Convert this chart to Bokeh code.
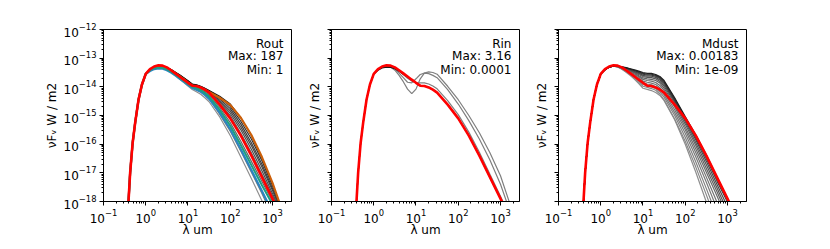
from bokeh.plotting import figure
from bokeh.layouts import row
from bokeh.models import Label, Range1d, CustomJSTickFormatter
from bokeh.embed import file_html
from bokeh.resources import INLINE

# ---------------- data ----------------
# wavelength grid, micrometres
rise_um = [0.38, 0.427, 0.49, 0.562, 0.676, 0.813, 1.0]
tail_um = [1.26, 1.58, 2.0, 2.51, 3.16, 3.98, 5.01, 6.31, 7.94, 10.0, 12.6, 15.8,
           20.0, 25.1, 31.6, 56.2, 100.0, 178.0, 316.0, 562.0, 1000.0, 1778.0, 3162.0]
wavelength_um = rise_um + tail_um

# log10 of nuFnu (W/m2) on the steep short-wavelength side, common to all models
rise_log = [-18.3, -17.0, -15.95, -15.25, -14.44, -13.92, -13.55]

# reference model (red), identical in all three panels
ref_log = [-13.38, -13.29, -13.25, -13.26, -13.32, -13.42, -13.53, -13.64, -13.75, -13.86, -13.96, -13.97,
           -14.02, -14.10, -14.20, -14.62, -15.10, -15.70, -16.40, -17.15, -17.90, -18.70, -19.50]

# panel 1: Rout (1 .. 187)
rout_low = [-13.42, -13.35, -13.33, -13.34, -13.40, -13.50, -13.61, -13.73, -13.85, -13.97, -14.09, -14.17,
            -14.26, -14.38, -14.52, -15.05, -15.70, -16.45, -17.20, -17.97, -18.80, -19.60, -20.40]
rout_m1 = [-13.42, -13.35, -13.33, -13.34, -13.39, -13.48, -13.59, -13.70, -13.81, -13.92, -14.03, -14.10,
           -14.18, -14.28, -14.40, -14.95, -15.55, -16.25, -16.98, -17.72, -18.52, -19.30, -20.10]
rout_m2 = [-13.41, -13.33, -13.30, -13.31, -13.36, -13.45, -13.55, -13.66, -13.77, -13.88, -13.98, -14.02,
           -14.08, -14.17, -14.28, -14.72, -15.25, -15.90, -16.60, -17.30, -18.00, -18.75, -19.50]
rout_d1 = [-13.40, -13.31, -13.28, -13.29, -13.34, -13.43, -13.54, -13.65, -13.76, -13.87, -13.97, -13.99,
           -14.04, -14.12, -14.22, -14.58, -15.00, -15.62, -16.30, -17.05, -17.80, -18.60, -19.50]
rout_d2 = [-13.40, -13.31, -13.28, -13.29, -13.34, -13.42, -13.52, -13.63, -13.74, -13.85, -13.95, -13.98,
           -14.03, -14.10, -14.20, -14.52, -14.92, -15.50, -16.18, -16.93, -17.72, -18.55, -19.50]
rout_d3 = [-13.40, -13.31, -13.29, -13.29, -13.34, -13.42, -13.51, -13.61, -13.72, -13.83, -13.93, -13.96,
           -14.01, -14.08, -14.18, -14.47, -14.84, -15.40, -16.05, -16.80, -17.62, -18.50, -19.50]
rout_d4 = [-13.40, -13.31, -13.29, -13.29, -13.33, -13.41, -13.50, -13.60, -13.70, -13.81, -13.92, -13.95,
           -14.00, -14.07, -14.16, -14.42, -14.76, -15.30, -15.95, -16.70, -17.55, -18.45, -19.50]
rout_d5 = [-13.40, -13.31, -13.29, -13.29, -13.33, -13.40, -13.49, -13.59, -13.69, -13.80, -13.91, -13.94,
           -13.99, -14.06, -14.14, -14.37, -14.68, -15.20, -15.82, -16.58, -17.45, -18.40, -19.50]
rout_black = [-13.40, -13.31, -13.29, -13.29, -13.33, -13.40, -13.49, -13.58, -13.68, -13.79, -13.90, -13.93,
              -13.98, -14.05, -14.13, -14.33, -14.60, -15.08, -15.70, -16.48, -17.38, -18.42, -19.50]
rout_orange = [-13.40, -13.32, -13.30, -13.30, -13.35, -13.43, -13.53, -13.63, -13.73, -13.85, -13.96, -13.98,
               -14.03, -14.10, -14.18, -14.38, -14.63, -15.08, -15.68, -16.45, -17.35, -18.40, -19.50]
rout_green = [-13.42, -13.35, -13.33, -13.34, -13.39, -13.47, -13.57, -13.68, -13.79, -13.90, -14.00, -14.05,
              -14.12, -14.22, -14.34, -14.80, -15.36, -16.03, -16.73, -17.43, -18.10, -18.85, -19.60]
rout_blue = [-13.45, -13.38, -13.36, -13.37, -13.42, -13.50, -13.60, -13.71, -13.82, -13.93, -14.04, -14.10,
             -14.17, -14.28, -14.42, -14.90, -15.48, -16.18, -16.90, -17.63, -18.38, -19.20, -20.00]

# panel 2: Rin (0.0001 .. 3.16)
rin_black = [-13.42, -13.34, -13.31, -13.32, -13.37, -13.46, -13.56, -13.66, -13.77, -13.87, -13.96, -13.97,
             -14.02, -14.10, -14.20, -14.62, -15.10, -15.70, -16.40, -17.15, -17.90, -18.70, -19.50]
rin_g1 = [-13.40, -13.31, -13.28, -13.29, -13.35, -13.45, -13.57, -13.70, -13.80, -13.85, -13.86, -13.86,
          -13.90, -13.97, -14.07, -14.48, -14.97, -15.58, -16.28, -17.05, -17.82, -18.60, -19.40]
rin_g2 = [-13.40, -13.31, -13.28, -13.30, -13.38, -13.52, -13.68, -13.84, -13.86, -13.72, -13.57, -13.52,
          -13.54, -13.60, -13.68, -14.10, -14.60, -15.18, -15.82, -16.55, -17.40, -18.45, -19.50]
rin_g3 = [-13.40, -13.31, -13.28, -13.31, -13.42, -13.60, -13.82, -14.08, -14.24, -14.08, -13.72, -13.52,
          -13.48, -13.50, -13.56, -13.98, -14.45, -15.00, -15.60, -16.30, -17.10, -18.20, -19.60]

# panel 3: Mdust (1e-09 .. 0.00183), lowest mass first
md_0 = [-13.40, -13.31, -13.27, -13.31, -13.39, -13.49, -13.61, -13.74, -13.89, -14.05, -14.09, -14.13,
        -14.20, -14.30, -14.48, -15.15, -16.00, -16.98, -18.02, -19.05, -20.10, -21.10, -22.10]
md_1 = [-13.40, -13.31, -13.27, -13.31, -13.38, -13.47, -13.58, -13.70, -13.84, -13.98, -14.02, -14.06,
        -14.12, -14.25, -14.45, -15.12, -15.90, -16.80, -17.77, -18.75, -19.75, -20.70, -21.60]
md_2 = [-13.40, -13.31, -13.27, -13.30, -13.37, -13.45, -13.55, -13.66, -13.79, -13.92, -13.96, -14.00,
        -14.06, -14.18, -14.36, -15.00, -15.76, -16.62, -17.55, -18.50, -19.45, -20.40, -21.30]
md_3 = [-13.40, -13.31, -13.27, -13.30, -13.36, -13.44, -13.52, -13.62, -13.74, -13.86, -13.90, -13.93,
        -13.99, -14.10, -14.28, -14.90, -15.62, -16.45, -17.33, -18.25, -19.20, -20.10, -21.00]
md_4 = [-13.40, -13.31, -13.27, -13.30, -13.35, -13.42, -13.50, -13.59, -13.69, -13.80, -13.84, -13.87,
        -13.92, -14.03, -14.20, -14.80, -15.50, -16.30, -17.15, -18.02, -18.90, -19.80, -20.70]
md_5 = [-13.40, -13.31, -13.27, -13.29, -13.34, -13.40, -13.47, -13.55, -13.65, -13.74, -13.78, -13.80,
        -13.85, -13.95, -14.12, -14.70, -15.40, -16.17, -16.98, -17.80, -18.65, -19.50, -20.40]
md_6 = [-13.40, -13.31, -13.27, -13.29, -13.33, -13.39, -13.45, -13.52, -13.61, -13.69, -13.72, -13.74,
        -13.78, -13.87, -14.05, -14.62, -15.30, -16.05, -16.85, -17.65, -18.50, -19.40, -20.30]
md_7 = [-13.40, -13.31, -13.27, -13.29, -13.33, -13.37, -13.43, -13.49, -13.57, -13.64, -13.67, -13.68,
        -13.72, -13.81, -13.98, -14.55, -15.22, -15.95, -16.72, -17.52, -18.35, -19.20, -20.00]
md_8 = [-13.40, -13.31, -13.27, -13.29, -13.32, -13.36, -13.41, -13.47, -13.53, -13.60, -13.63, -13.63,
        -13.67, -13.76, -13.92, -14.50, -15.16, -15.85, -16.60, -17.40, -18.18, -19.00, -19.80]
md_9 = [-13.40, -13.31, -13.27, -13.28, -13.31, -13.35, -13.39, -13.44, -13.50, -13.56, -13.59, -13.59,
        -13.63, -13.71, -13.86, -14.47, -15.12, -15.78, -16.50, -17.28, -18.02, -18.85, -19.70]
md_10 = [-13.40, -13.31, -13.27, -13.28, -13.31, -13.34, -13.38, -13.43, -13.48, -13.53, -13.56, -13.56,
         -13.60, -13.67, -13.82, -14.42, -15.08, -15.72, -16.42, -17.18, -17.93, -18.75, -19.60]
md_11 = [-13.40, -13.31, -13.27, -13.28, -13.30, -13.33, -13.37, -13.41, -13.45, -13.50, -13.53, -13.53,
         -13.57, -13.64, -13.78, -14.38, -15.04, -15.68, -16.38, -17.14, -17.90, -18.70, -19.50]

panel_names = ["Rout", "Rin", "Mdust"]
panel_max = ["187", "3.16", "0.00183"]
panel_min = ["1", "0.0001", "1e-09"]

# ---------------- drawing ----------------
FONT = "DejaVu Sans"
FS = "12px"
FRAME_W = 188
FRAME_H = 172
TOP = 29
BOTTOM = 44


def flux(tail_log):
    return [10 ** v for v in rise_log + tail_log]


def make_fig(left, right, show_labels):
    p = figure(x_axis_type="log", y_axis_type="log",
               x_range=Range1d(0.1, 10 ** 3.45), y_range=Range1d(1e-18, 1e-12),
               width=left + FRAME_W + right, height=TOP + FRAME_H + BOTTOM,
               min_border_left=left, min_border_right=right,
               min_border_top=TOP, min_border_bottom=BOTTOM,
               output_backend="svg", toolbar_location=None)
    p.grid.visible = False
    p.outline_line_color = "black"
    p.outline_line_width = 1
    p.outline_line_alpha = 1
    p.background_fill_color = "white"
    p.border_fill_color = "white"
    for ax in (p.xaxis[0], p.yaxis[0]):
        ax.major_tick_out = 4
        ax.major_tick_in = 0
        ax.minor_tick_out = 2
        ax.minor_tick_in = 0
        ax.major_label_standoff = 3
        ax.axis_line_color = "black"
        ax.major_tick_line_color = "black"
        ax.minor_tick_line_color = "black"
        ax.major_label_text_font = FONT
        ax.major_label_text_font_size = FS
        ax.major_label_text_color = "black"
        ax.axis_label_text_font = FONT
        ax.axis_label_text_font_size = FS
        ax.axis_label_text_font_style = "normal"
        ax.axis_label_text_color = "black"
    p.xaxis.axis_label = "λ um"
    p.xaxis.axis_label_standoff = -3
    p.yaxis.axis_label = "νFᵥ W / m2"
    if not show_labels:
        p.yaxis.formatter = CustomJSTickFormatter(code="return ''")
        p.yaxis.axis_label_standoff = 6
    else:
        p.yaxis.axis_label_standoff = 2
    return p


def add_text(p, i):
    xs = 10 ** 3.26
    for txt, yl in ((panel_names[i], -12.49), ("Max: " + panel_max[i], -12.94), ("Min: " + panel_min[i], -13.40)):
        p.add_layout(Label(x=xs, y=10 ** yl, text=txt, text_align="right", text_baseline="middle",
                           text_font=FONT, text_font_size=FS, text_color="black"))


# panel 1
p1 = make_fig(103, 2, True)
for curve, col in ((rout_low, "#8f8f8f"), (rout_m1, "#7a7a7a"), (rout_m2, "#666666"),
                   (rout_d1, "#5a5a5a"), (rout_d2, "#4d4d4d"), (rout_d3, "#444444"),
                   (rout_d4, "#3a3a3a"), (rout_d5, "#303030"), (rout_black, "#151515")):
    p1.line(wavelength_um, flux(curve), line_color=col, line_width=1.2)
p1.line(wavelength_um, flux(rout_orange), line_color="#cc5f0a", line_width=2.2)
p1.line(wavelength_um, flux(rout_blue), line_color="#2b84c2", line_width=2.2)
p1.line(wavelength_um, flux(rout_green), line_color="#1c9e80", line_width=2.0)
p1.line(wavelength_um, flux(ref_log), line_color="#ff0000", line_width=2.6)
add_text(p1, 0)

# panel 2
p2 = make_fig(38, 2, False)
for curve in (rin_g1, rin_g2, rin_g3):
    p2.line(wavelength_um, flux(curve), line_color="#7f7f7f", line_width=1.2)
p2.line(wavelength_um, flux(rin_black), line_color="#1a1a1a", line_width=1.2)
p2.line(wavelength_um, flux(ref_log), line_color="#ff0000", line_width=2.6)
add_text(p2, 1)

# panel 3
p3 = make_fig(37, 10, False)
md_curves = [md_0, md_1, md_2, md_3, md_4, md_5, md_6, md_7, md_8, md_9, md_10, md_11]
md_colors = ["#8e8e8e", "#888888", "#828282", "#7a7a7a", "#727272", "#6a6a6a",
             "#606060", "#555555", "#4a4a4a", "#3d3d3d", "#2f2f2f", "#202020"]
for curve, col in zip(md_curves, md_colors):
    p3.line(wavelength_um, flux(curve), line_color=col, line_width=1.2)
p3.line(wavelength_um, flux(ref_log), line_color="#ff0000", line_width=2.6)
add_text(p3, 2)

layout = row(p1, p2, p3)
open("out.html", "w").write(file_html(layout, INLINE))
